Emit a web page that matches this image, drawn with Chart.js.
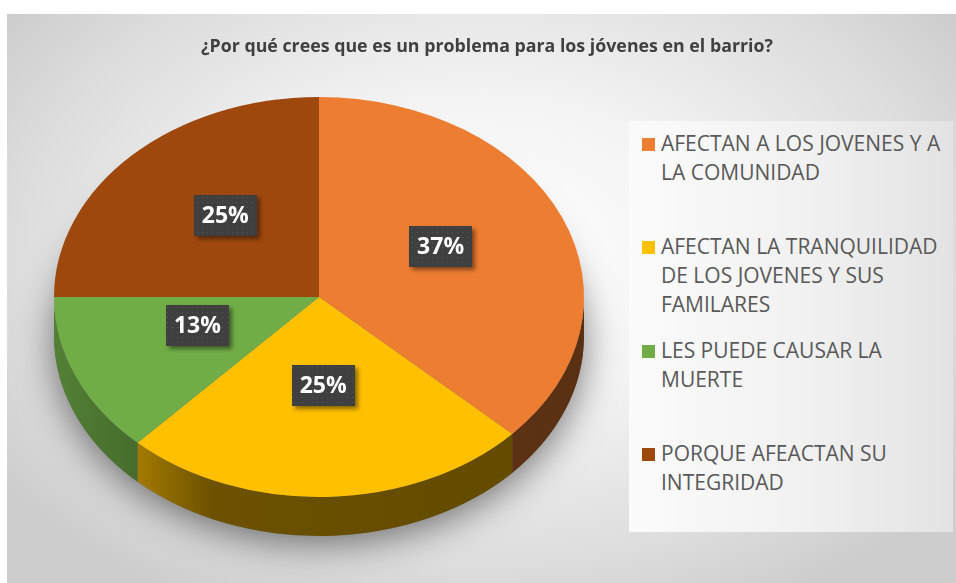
<!DOCTYPE html>
<html>
<head>
<meta charset="utf-8">
<script src="https://cdn.jsdelivr.net/npm/chart.js@4.4.0/dist/chart.umd.min.js"></script>
<style>
    html, body { margin: 0; padding: 0; width: 956px; height: 583px; overflow: hidden; background: #fff; }
    #frame {
        position: absolute; left: 7px; top: 14px; width: 949px; height: 569px;
        background: radial-gradient(ellipse 62% 70% at 50% 42%, #ffffff 0%, #f3f3f3 40%, #dcdcdc 80%, #cdcdcd 100%);
    }
    #pie { position: absolute; left: 0; top: 0; }
    #legend {
        position: absolute; left: 629px; top: 121px; width: 324px; height: 411px;
        background: linear-gradient(to right, #fbfbfb 0%, #f1f1f1 55%, #e3e3e3 100%);
    }
    .item { position: absolute; left: 13px; font-family: 'Open Sans', sans-serif; font-size: 21px; line-height: 29px; color: #595959; }
    .item .box { position: absolute; left: 0; top: 9px; width: 13px; height: 13px; }
    .item .txt { margin-left: 19px; white-space: nowrap; }
</style>
</head>
<body>
<div id="frame"></div>
<canvas id="pie" width="956" height="583"></canvas>
<div id="legend"></div>
<script>
// Chart data
const chartTitle = '¿Por qué crees que es un problema para los jóvenes en el barrio?';
const categories = [
    ['AFECTAN A LOS JOVENES Y A', 'LA COMUNIDAD'],
    ['AFECTAN LA TRANQUILIDAD', 'DE LOS JOVENES Y SUS', 'FAMILARES'],
    ['LES PUEDE CAUSAR LA', 'MUERTE'],
    ['PORQUE AFEACTAN SU', 'INTEGRIDAD']
];
const percentages = [37, 25, 13, 25];
const sliceColors = ['#ED7D31', '#FFC000', '#70AD47', '#9E480E'];

// 3D look: where the squashed pie sits on the page
const CX = 319, CY = 297, SQUASH = 200 / 265, DEPTH = 39, LABEL_DY = -11;

function shade(hex, f) {
    const n = parseInt(hex.slice(1), 16);
    const r = Math.round(((n >> 16) & 255) * f);
    const g = Math.round(((n >> 8) & 255) * f);
    const b = Math.round((n & 255) * f);
    return 'rgb(' + r + ',' + g + ',' + b + ')';
}

// dotted fill for the value boxes
function makeDots(ctx) {
    const c = document.createElement('canvas');
    c.width = 5; c.height = 5;
    const p = c.getContext('2d');
    p.fillStyle = '#3f3f3f';
    p.fillRect(0, 0, 5, 5);
    p.fillStyle = '#575757';
    p.fillRect(2, 2, 1, 1);
    return ctx.createPattern(c, 'repeat');
}

const pie3d = {
    id: 'pie3d',
    beforeDatasetsDraw(chart) {
        const ctx = chart.ctx;
        const arcs = chart.getDatasetMeta(0).data;
        const ax = arcs[0].x, ay = arcs[0].y, r = arcs[0].outerRadius;
        const d = DEPTH / SQUASH;
        ctx.save();
        ctx.translate(CX, CY);
        ctx.scale(1, SQUASH);
        ctx.translate(-ax, -ay);

        // soft shadow under the pie
        ctx.save();
        ctx.shadowColor = 'rgba(0,0,0,0.5)';
        ctx.shadowBlur = 36;
        ctx.shadowOffsetY = 8;
        ctx.fillStyle = '#777';
        ctx.beginPath();
        ctx.arc(ax, ay + d, r, 0, Math.PI * 2);
        ctx.fill();
        ctx.restore();

        // sides of the front slices
        arcs.forEach((arc, i) => {
            const s = Math.max(arc.startAngle, 0);
            const e = Math.min(arc.endAngle, Math.PI);
            if (e <= s) return;
            const c = sliceColors[i];
            const grad = ctx.createLinearGradient(ax - r, 0, ax + r, 0);
            grad.addColorStop(0, shade(c, 0.74));
            grad.addColorStop(0.17, shade(c, 0.62));
            grad.addColorStop(0.3, shade(c, 0.42));
            grad.addColorStop(1, shade(c, 0.38));
            ctx.fillStyle = grad;
            ctx.beginPath();
            ctx.arc(ax, ay, r, s, e);
            ctx.arc(ax, ay + d, r, e, s, true);
            ctx.closePath();
            ctx.fill();
        });
    },
    afterDatasetsDraw(chart) {
        const ctx = chart.ctx;
        ctx.restore();
        const arcs = chart.getDatasetMeta(0).data;
        const ax = arcs[0].x, ay = arcs[0].y;
        const dots = makeDots(ctx);
        arcs.forEach((arc, i) => {
            const p = arc.getCenterPoint();
            const x = CX + (p.x - ax);
            const y = CY + (p.y - ay) * SQUASH + LABEL_DY;
            const w = 63, h = 41;
            ctx.save();
            ctx.shadowColor = 'rgba(0,0,0,0.45)';
            ctx.shadowBlur = 4;
            ctx.shadowOffsetX = 3;
            ctx.shadowOffsetY = 3;
            ctx.fillStyle = dots;
            ctx.fillRect(Math.round(x - w / 2), Math.round(y - h / 2), w, h);
            ctx.restore();
            ctx.fillStyle = '#fff';
            ctx.font = 'bold 23px "Open Sans"';
            ctx.textAlign = 'center';
            ctx.textBaseline = 'middle';
            ctx.fillText(percentages[i] + '%', x, y + 1);
        });
    }
};

new Chart(document.getElementById('pie').getContext('2d'), {
    type: 'pie',
    data: {
        labels: categories,
        datasets: [{
            data: percentages,
            backgroundColor: sliceColors,
            borderWidth: 0,
            radius: 265,
            clip: false
        }]
    },
    options: {
        responsive: false,
        animation: false,
        devicePixelRatio: 1,
        events: [],
        layout: { padding: { left: 18 } },
        plugins: {
            legend: { display: false },
            tooltip: { enabled: false },
            title: {
                display: true,
                text: chartTitle,
                color: '#404040',
                font: { family: 'Open Sans', size: 17.8, weight: 'bold' },
                padding: { top: 36, bottom: 10 }
            }
        }
    },
    plugins: [pie3d]
});

// legend, one item every 103 px like the reference
const legend = document.getElementById('legend');
categories.forEach((lines, i) => {
    const item = document.createElement('div');
    item.className = 'item';
    item.style.top = (8 + i * 103.3) + 'px';
    item.innerHTML = '<div class="box" style="background:' + sliceColors[i] + '"></div>' +
        '<div class="txt">' + lines.join('<br>') + '</div>';
    legend.appendChild(item);
});
</script>
</body>
</html>
